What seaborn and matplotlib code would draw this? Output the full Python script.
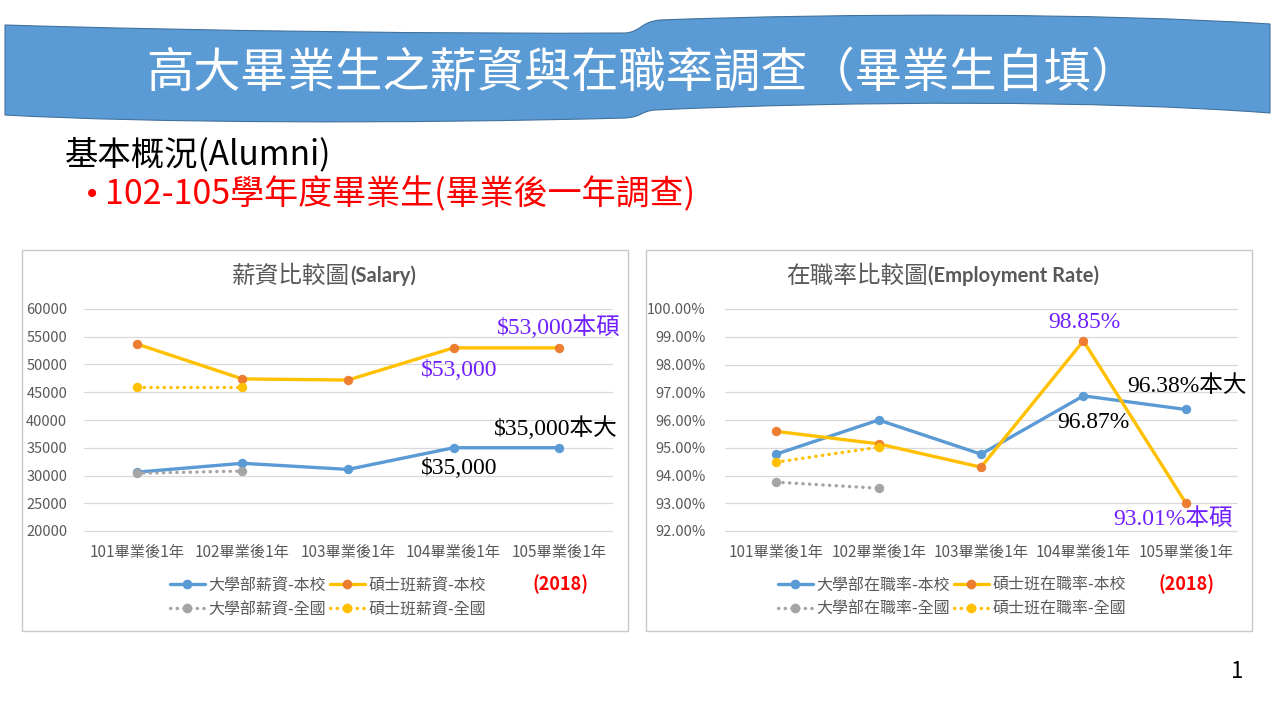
import numpy as np
import pandas as pd
import matplotlib
matplotlib.use("Agg")
import matplotlib.pyplot as plt
from matplotlib.lines import Line2D
from matplotlib.patches import PathPatch, Rectangle
from matplotlib.path import Path
from matplotlib.ticker import FuncFormatter
import seaborn as sns

# ---------------- data ----------------
categories = ["101畢業後1年", "102畢業後1年", "103畢業後1年", "104畢業後1年", "105畢業後1年"]

salary_bach_school = [30600, 32200, 31100, 35000, 35000]
salary_master_school = [53700, 47400, 47200, 53000, 53000]
salary_bach_nation = [30400, 30800]
salary_master_nation = [45900, 45900]

emp_bach_school = [94.77, 96.00, 94.77, 96.87, 96.38]
emp_master_school = [95.59, 95.14, 94.30, 98.85, 93.01]
emp_bach_nation = [93.76, 93.54]
emp_master_nation = [94.48, 95.02]

salary_labels = ["大學部薪資-本校", "碩士班薪資-本校", "大學部薪資-全國", "碩士班薪資-全國"]
emp_labels = ["大學部在職率-本校", "碩士班在職率-本校", "大學部在職率-全國", "碩士班在職率-全國"]

title_main = "高大畢業生之薪資與在職率調查（畢業生自填）"
subtitle1 = "基本概況(Alumni)"
subtitle2 = "102-105學年度畢業生(畢業後一年調查)"

# ---------------- style ----------------
sns.set_theme(style="white")
CJK = ["Noto Sans CJK TC", "DejaVu Sans"]
SERIF = ["Liberation Serif", "Noto Sans CJK TC"]
plt.rcParams["font.family"] = CJK
plt.rcParams["axes.unicode_minus"] = False

BLUE = "#5B9BD5"
ORANGE = "#ED7D31"
YELLOW = "#FFC000"
GRAY = "#A5A5A5"
PURPLE = "#7020FF"
TXT = "#595959"
DOT = (0, (0.1, 1.9))

W, H = 1280, 720
fig = plt.figure(figsize=(12.8, 7.2), dpi=100)
fig.patch.set_facecolor("white")


def fx(x):
    return x / W


def fy(y):
    return 1 - y / H


# ---------------- banner ----------------
pts = [(5, 25),
       (200, 31), (450, 34), (625, 33),
       (641, 32), (640, 22), (660, 20),
       (850, 13), (1100, 13), (1270, 24),
       (1270, 113),
       (1100, 100), (850, 101), (655, 110),
       (641, 111), (642, 117), (625, 118),
       (400, 124), (150, 123), (5, 115),
       (5, 25)]
codes = [Path.MOVETO] + [Path.CURVE4] * 9 + [Path.LINETO] + [Path.CURVE4] * 9 + [Path.CLOSEPOLY]
verts = [(fx(x), fy(y)) for x, y in pts]
banner = PathPatch(Path(verts, codes), facecolor="#5B9BD5", edgecolor="#41719C",
                   lw=0.8, transform=fig.transFigure, zorder=0)
fig.patches.append(banner)
fig.text(fx(642), fy(73), title_main, color="white", fontsize=34,
         ha="center", va="center", family=CJK)

fig.text(fx(65), fy(155), subtitle1, color="black", fontsize=24,
         ha="left", va="center", family=CJK)
fig.text(fx(84), fy(195), "•", color="#FF0000", fontsize=20,
         ha="left", va="center", family=["DejaVu Sans"])
fig.text(fx(105), fy(195), subtitle2, color="#FF0000", fontsize=24.5,
         ha="left", va="center", family=CJK)
fig.text(fx(1237), fy(672), "1", color="black", fontsize=16,
         ha="center", va="center", family=CJK)

# chart boxes
for x0 in (22, 646):
    fig.patches.append(Rectangle((fx(x0), fy(631)), 606 / W, 381 / H,
                                 transform=fig.transFigure, facecolor="white",
                                 edgecolor="#C8C8C8", lw=1.0, zorder=0.5))


def style_axes(ax, ylim, yticks, fmt, ypad):
    ax.set_ylim(*ylim)
    ax.set_yticks(yticks)
    ax.yaxis.set_major_formatter(FuncFormatter(fmt))
    ax.set_xlim(-0.5, 4.5)
    ax.grid(axis="y", color="#D9D9D9", lw=0.9)
    ax.grid(axis="x", visible=False)
    for gl in ax.get_ygridlines():
        gl.set_clip_on(False)
    for s in ax.spines.values():
        s.set_visible(False)
    ax.tick_params(axis="both", length=0, colors=TXT)
    ax.tick_params(axis="y", pad=ypad, labelsize=10.5)
    ax.tick_params(axis="x", pad=9, labelsize=11)
    ax.set_xlabel("")
    ax.set_ylabel("")
    ax.set_facecolor("none")
    ax.set_axisbelow(True)


def draw_series(ax, cats, vals, line_c, mark_c, ls):
    df = pd.DataFrame({"cat": cats, "val": vals})
    sns.lineplot(data=df, x="cat", y="val", ax=ax, color=line_c, lw=2.4,
                 linestyle=ls, marker="o", markersize=6,
                 markerfacecolor=mark_c, markeredgecolor=mark_c,
                 dash_capstyle="round", sort=False, legend=False)


def legend_handles():
    return [
        Line2D([], [], color=BLUE, lw=2.4, marker="o", ms=6, mfc=BLUE, mec=BLUE),
        Line2D([], [], color=YELLOW, lw=2.4, marker="o", ms=6, mfc=ORANGE, mec=ORANGE),
        Line2D([], [], color=GRAY, lw=2.4, ls=DOT, dash_capstyle="round",
               marker="o", ms=6, mfc=GRAY, mec=GRAY),
        Line2D([], [], color=YELLOW, lw=2.4, ls=DOT, dash_capstyle="round",
               marker="o", ms=6, mfc=YELLOW, mec=YELLOW),
    ]


def add_legend(labels, cx):
    h = legend_handles()
    order = [0, 2, 1, 3]  # column-major fill -> rows: school / nation
    fig.legend([h[i] for i in order], [labels[i] for i in order], loc="center", ncol=2,
               bbox_to_anchor=(fx(cx), fy(597)), bbox_transform=fig.transFigure,
               frameon=False, fontsize=11.5, labelcolor=TXT, handlelength=2.2,
               handletextpad=0.25, columnspacing=0.2, labelspacing=0.4)


def chart_title(xsplit, cjk, latin):
    fig.text(fx(xsplit), fy(276), cjk, color=TXT, fontsize=17,
             ha="right", va="center", family=CJK)
    fig.text(fx(xsplit), fy(276), latin, color=TXT, fontsize=14.5,
             fontweight="bold", ha="left", va="center", family=["Lato", "DejaVu Sans"])


def t_ax(ax, x, y, s, color):
    ax.text(x, y, s, transform=ax.transAxes, color=color, fontsize=17,
            ha="center", va="center", family=SERIF)


# ---------------- salary chart ----------------
ax1 = fig.add_axes([fx(84), fy(531), 528 / W, 222 / H])
ax1.set_zorder(2)
draw_series(ax1, categories, salary_bach_school, BLUE, BLUE, "-")
draw_series(ax1, categories, salary_master_school, YELLOW, ORANGE, "-")
draw_series(ax1, categories[:2], salary_bach_nation, GRAY, GRAY, DOT)
draw_series(ax1, categories[:2], salary_master_nation, YELLOW, YELLOW, DOT)
style_axes(ax1, (20000, 60000), np.arange(20000, 60001, 5000),
           lambda v, p: f"{v:.0f}", 12)

chart_title(350, "薪資比較圖", "(Salary)")

t_ax(ax1, (559 - 84) / 528, (531 - 327) / 222, "$53,000本碩", PURPLE)
t_ax(ax1, (459 - 84) / 528, (531 - 371) / 222, "$53,000", PURPLE)
t_ax(ax1, (556 - 84) / 528, (531 - 428) / 222, "$35,000本大", "black")
t_ax(ax1, (459 - 84) / 528, (531 - 469) / 222, "$35,000", "black")

add_legend(salary_labels, 328)
fig.text(fx(560), fy(584), "(2018)", color="#FF0000", fontsize=13,
         fontweight="bold", ha="center", va="center", family=CJK)

# ---------------- employment chart ----------------
ax2 = fig.add_axes([fx(725), fy(531), 512 / W, 222 / H])
ax2.set_zorder(2)
draw_series(ax2, categories, emp_bach_school, BLUE, BLUE, "-")
draw_series(ax2, categories, emp_master_school, YELLOW, ORANGE, "-")
draw_series(ax2, categories[:2], emp_bach_nation, GRAY, GRAY, DOT)
draw_series(ax2, categories[:2], emp_master_nation, YELLOW, YELLOW, DOT)
style_axes(ax2, (92, 100), np.arange(92, 100.01, 1),
           lambda v, p: f"{v:.2f}%", 14)

chart_title(928, "在職率比較圖", "(Employment Rate)")

t_ax(ax2, (1084 - 725) / 512, (531 - 323) / 222, "98.85%", PURPLE)
t_ax(ax2, (1187 - 725) / 512, (531 - 386) / 222, "96.38%本大", "black")
t_ax(ax2, (1093 - 725) / 512, (531 - 423) / 222, "96.87%", "black")
t_ax(ax2, (1173 - 725) / 512, (531 - 519) / 222, "93.01%本碩", PURPLE)

add_legend(emp_labels, 952)
fig.text(fx(1187), fy(584), "(2018)", color="#FF0000", fontsize=13,
         fontweight="bold", ha="center", va="center", family=CJK)

fig.savefig("out.png", dpi=100, facecolor="white")
